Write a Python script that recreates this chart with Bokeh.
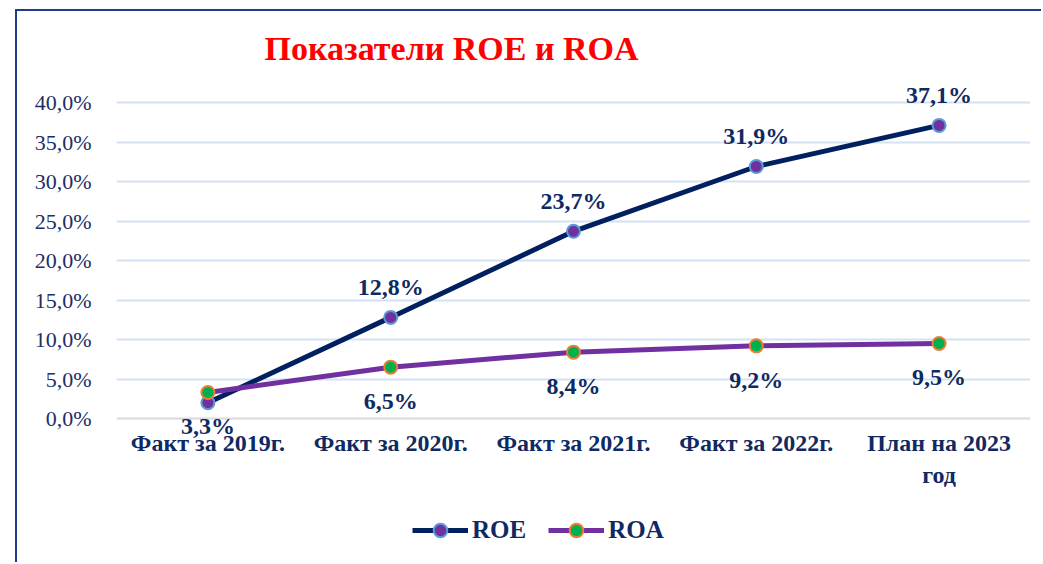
from bokeh.plotting import figure
from bokeh.models import (ColumnDataSource, LabelSet, Label, Legend, LegendItem,
                          FixedTicker, Range1d, FactorRange)
from bokeh.embed import file_html
from bokeh.resources import INLINE

categories = ["Факт за 2019г.", "Факт за 2020г.", "Факт за 2021г.", "Факт за 2022г.", "План на 2023\nгод"]
roe = [2.0, 12.8, 23.7, 31.9, 37.1]
roa = [3.3, 6.5, 8.4, 9.2, 9.5]
roe_labels = ["", "12,8%", "23,7%", "31,9%", "37,1%"]
roa_labels = ["3,3%", "6,5%", "8,4%", "9,2%", "9,5%"]
y_ticks = [0, 5, 10, 15, 20, 25, 30, 35, 40]
y_tick_labels = ["0,0%", "5,0%", "10,0%", "15,0%", "20,0%", "25,0%", "30,0%", "35,0%", "40,0%"]
title_text = "Показатели ROE и ROA"

NAVY = "#0F2A62"
SERIF = "Liberation Serif"

p = figure(width=1026, height=553, x_range=FactorRange(*categories, range_padding=0),
           y_range=Range1d(-18.48, 51.52), output_backend="svg", toolbar_location=None,
           min_border_left=99, min_border_right=13, min_border_top=0, min_border_bottom=0)
p.styles = {"margin-left": "15px", "margin-top": "9px",
            "border-left": "2px solid #1F3C88", "border-top": "2px solid #1F3C88"}
p.outline_line_color = None
p.background_fill_color = "white"
p.border_fill_color = "white"

p.xgrid.grid_line_color = None
p.ygrid.grid_line_color = "#D5E2F3"
p.ygrid.grid_line_width = 2
p.ygrid.ticker = FixedTicker(ticks=y_ticks[1:])

p.yaxis.ticker = FixedTicker(ticks=y_ticks)
p.yaxis.major_label_overrides = {t: l for t, l in zip(y_ticks, y_tick_labels)}
p.yaxis.axis_line_color = None
p.yaxis.major_tick_line_color = None
p.yaxis.minor_tick_line_color = None
p.yaxis.major_label_standoff = 19
p.yaxis.major_label_text_font = SERIF
p.yaxis.major_label_text_font_size = "22px"
p.yaxis.major_label_text_color = "#1B2F66"

p.xaxis.fixed_location = 0
p.xaxis.axis_line_color = "#D9D9D9"
p.xaxis.axis_line_width = 2
p.xaxis.major_tick_line_color = None
p.xaxis.minor_tick_line_color = None
p.xaxis.major_label_standoff = 5
p.xaxis.major_label_text_font = SERIF
p.xaxis.major_label_text_font_style = "bold"
p.xaxis.major_label_text_font_size = "24px"
p.xaxis.major_label_text_color = NAVY
p.xaxis.major_label_text_line_height = 1.25

src = ColumnDataSource(dict(x=categories, roe=roe, roa=roa, roe_l=roe_labels, roa_l=roa_labels))

l1 = p.line("x", "roe", source=src, line_color="#002060", line_width=5)
s1 = p.scatter("x", "roe", source=src, size=13, fill_color="#7030A0",
               line_color="#5B9BD5", line_width=2)
l2 = p.line("x", "roa", source=src, line_color="#7030A0", line_width=5)
s2 = p.scatter("x", "roa", source=src, size=13, fill_color="#00B050",
               line_color="#ED7D31", line_width=2)

lab_common = dict(text_font=SERIF, text_font_style="bold", text_font_size="24px",
                  text_color=NAVY, text_align="center", text_baseline="middle")
p.add_layout(LabelSet(x="x", y="roe", text="roe_l", source=src, y_offset=30, **lab_common))
p.add_layout(LabelSet(x="x", y="roa", text="roa_l", source=src, y_offset=-34, **lab_common))

p.add_layout(Label(x=1.833, y=46.8, text=title_text, text_font=SERIF, text_font_style="bold",
                   text_font_size="34px", text_color="#FF0000", text_align="center",
                   text_baseline="middle"))

legend = Legend(items=[LegendItem(label="ROE", renderers=[l1, s1]),
                       LegendItem(label="ROA", renderers=[l2, s2])],
                orientation="horizontal", location=(296, 17),
                label_text_font=SERIF, label_text_font_style="bold", label_text_font_size="25px",
                label_text_color=NAVY, glyph_width=56, glyph_height=34, label_standoff=4,
                spacing=22, padding=0, margin=0, border_line_color=None,
                background_fill_alpha=0)
p.add_layout(legend, "center")

open("out.html", "w").write(file_html(p, INLINE))
